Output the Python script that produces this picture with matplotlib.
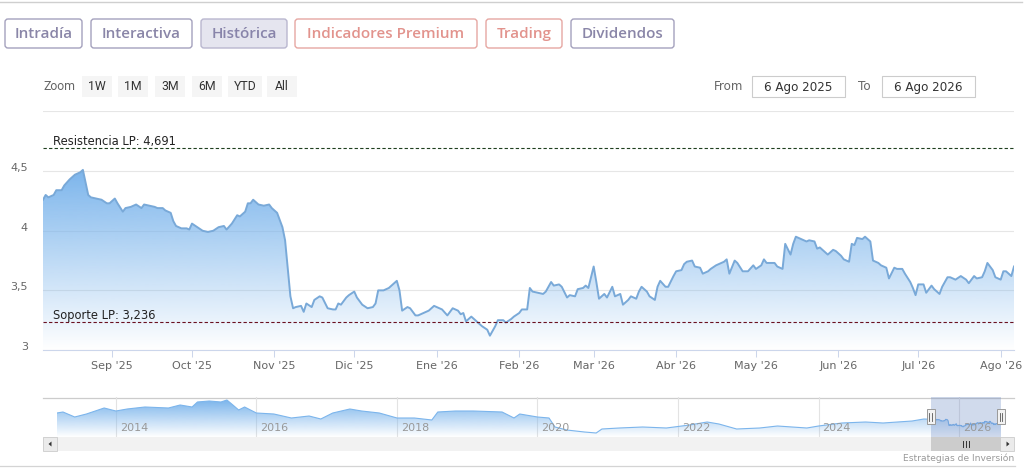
import numpy as np
import pandas as pd
import matplotlib
matplotlib.use("Agg")
import matplotlib.pyplot as plt
import matplotlib.dates as mdates
from matplotlib.colors import LinearSegmentedColormap, to_rgb
from matplotlib.patches import FancyBboxPatch, Rectangle
from matplotlib.transforms import ScaledTranslation, blended_transform_factory

# ---------------- data ----------------
dates = [
    "2025-08-06", "2025-08-07", "2025-08-08", "2025-08-10", "2025-08-11", "2025-08-13", "2025-08-14",
    "2025-08-16", "2025-08-18", "2025-08-20", "2025-08-21", "2025-08-23", "2025-08-24", "2025-08-26",
    "2025-08-28", "2025-08-30", "2025-08-31", "2025-09-02", "2025-09-03", "2025-09-05", "2025-09-06",
    "2025-09-08", "2025-09-10", "2025-09-12", "2025-09-13", "2025-09-15", "2025-09-17", "2025-09-18",
    "2025-09-20", "2025-09-21", "2025-09-23", "2025-09-24", "2025-09-25", "2025-09-27", "2025-09-29",
    "2025-09-30", "2025-10-01", "2025-10-03", "2025-10-05", "2025-10-07", "2025-10-09", "2025-10-11",
    "2025-10-13", "2025-10-14", "2025-10-16", "2025-10-18", "2025-10-19", "2025-10-21", "2025-10-22",
    "2025-10-23", "2025-10-24", "2025-10-26", "2025-10-28", "2025-10-30", "2025-10-31", "2025-11-02",
    "2025-11-03", "2025-11-04", "2025-11-05", "2025-11-07", "2025-11-08", "2025-11-09", "2025-11-11",
    "2025-11-12", "2025-11-13", "2025-11-15", "2025-11-16", "2025-11-18", "2025-11-19", "2025-11-21",
    "2025-11-23", "2025-11-24", "2025-11-25", "2025-11-26", "2025-11-28", "2025-11-29", "2025-12-01",
    "2025-12-02", "2025-12-04", "2025-12-06", "2025-12-08", "2025-12-09", "2025-12-10", "2025-12-12",
    "2025-12-14", "2025-12-15", "2025-12-17", "2025-12-18", "2025-12-19", "2025-12-21", "2025-12-22",
    "2025-12-24", "2025-12-25", "2025-12-27", "2025-12-29", "2025-12-31", "2026-01-01", "2026-01-03",
    "2026-01-05", "2026-01-07", "2026-01-09", "2026-01-10", "2026-01-11", "2026-01-12", "2026-01-14",
    "2026-01-15", "2026-01-17", "2026-01-18", "2026-01-20", "2026-01-21", "2026-01-23", "2026-01-24",
    "2026-01-26", "2026-01-27", "2026-01-29", "2026-01-30", "2026-02-01", "2026-02-02", "2026-02-04",
    "2026-02-05", "2026-02-06", "2026-02-08", "2026-02-10", "2026-02-11", "2026-02-13", "2026-02-14",
    "2026-02-16", "2026-02-17", "2026-02-19", "2026-02-20", "2026-02-22", "2026-02-23", "2026-02-25",
    "2026-02-26", "2026-02-27", "2026-03-01", "2026-03-02", "2026-03-03", "2026-03-05", "2026-03-06",
    "2026-03-08", "2026-03-09", "2026-03-11", "2026-03-12", "2026-03-14", "2026-03-15", "2026-03-17",
    "2026-03-18", "2026-03-19", "2026-03-21", "2026-03-22", "2026-03-24", "2026-03-25", "2026-03-26",
    "2026-03-28", "2026-03-29", "2026-03-31", "2026-04-01", "2026-04-03", "2026-04-04", "2026-04-05",
    "2026-04-07", "2026-04-08", "2026-04-10", "2026-04-11", "2026-04-13", "2026-04-14", "2026-04-16",
    "2026-04-17", "2026-04-19", "2026-04-20", "2026-04-21", "2026-04-23", "2026-04-24", "2026-04-26",
    "2026-04-27", "2026-04-28", "2026-04-30", "2026-05-01", "2026-05-03", "2026-05-04", "2026-05-05",
    "2026-05-07", "2026-05-08", "2026-05-09", "2026-05-11", "2026-05-12", "2026-05-14", "2026-05-15",
    "2026-05-16", "2026-05-18", "2026-05-20", "2026-05-21", "2026-05-23", "2026-05-24", "2026-05-25",
    "2026-05-27", "2026-05-28", "2026-05-30", "2026-05-31", "2026-06-02", "2026-06-03", "2026-06-05",
    "2026-06-06", "2026-06-07", "2026-06-08", "2026-06-10", "2026-06-11", "2026-06-13", "2026-06-14",
    "2026-06-16", "2026-06-17", "2026-06-19", "2026-06-20", "2026-06-22", "2026-06-23", "2026-06-25",
    "2026-06-26", "2026-06-28", "2026-06-29", "2026-06-30", "2026-07-01", "2026-07-03", "2026-07-04",
    "2026-07-06", "2026-07-07", "2026-07-09", "2026-07-10", "2026-07-12", "2026-07-13", "2026-07-15",
    "2026-07-17", "2026-07-19", "2026-07-20", "2026-07-22", "2026-07-23", "2026-07-25", "2026-07-26",
    "2026-07-27", "2026-07-29", "2026-07-30", "2026-08-01", "2026-08-02", "2026-08-03", "2026-08-05",
    "2026-08-06",
]
prices = [
    4.26, 4.30, 4.28, 4.30, 4.34, 4.34, 4.38,
    4.43, 4.47, 4.49, 4.51, 4.30, 4.28, 4.27,
    4.26, 4.23, 4.23, 4.27, 4.23, 4.16, 4.19,
    4.20, 4.22, 4.19, 4.22, 4.21, 4.20, 4.19,
    4.19, 4.17, 4.15, 4.08, 4.04, 4.02, 4.02,
    4.01, 4.06, 4.03, 4.00, 3.99, 4.00, 4.03,
    4.04, 4.01, 4.06, 4.13, 4.12, 4.16, 4.23,
    4.23, 4.26, 4.22, 4.21, 4.22, 4.19, 4.15,
    4.09, 4.03, 3.92, 3.45, 3.35, 3.36, 3.37,
    3.32, 3.39, 3.36, 3.42, 3.45, 3.44, 3.35,
    3.34, 3.34, 3.39, 3.38, 3.44, 3.46, 3.49,
    3.44, 3.38, 3.35, 3.36, 3.39, 3.50, 3.50,
    3.52, 3.54, 3.58, 3.50, 3.33, 3.36, 3.35,
    3.29, 3.29, 3.31, 3.33, 3.37, 3.36, 3.34,
    3.29, 3.35, 3.33, 3.30, 3.31, 3.24, 3.28,
    3.26, 3.22, 3.20, 3.17, 3.12, 3.20, 3.25,
    3.25, 3.23, 3.26, 3.28, 3.31, 3.34, 3.34,
    3.52, 3.49, 3.48, 3.47, 3.49, 3.57, 3.54,
    3.55, 3.53, 3.44, 3.46, 3.45, 3.51, 3.52,
    3.54, 3.52, 3.70, 3.57, 3.43, 3.47, 3.44,
    3.53, 3.45, 3.47, 3.38, 3.42, 3.45, 3.43,
    3.49, 3.53, 3.49, 3.45, 3.42, 3.53, 3.58,
    3.53, 3.53, 3.62, 3.66, 3.67, 3.72, 3.74,
    3.75, 3.70, 3.69, 3.64, 3.66, 3.68, 3.71,
    3.72, 3.74, 3.76, 3.64, 3.75, 3.73, 3.66,
    3.66, 3.66, 3.71, 3.68, 3.71, 3.76, 3.73,
    3.73, 3.73, 3.70, 3.68, 3.89, 3.80, 3.89,
    3.95, 3.93, 3.91, 3.92, 3.91, 3.85, 3.86,
    3.82, 3.80, 3.84, 3.83, 3.79, 3.76, 3.74,
    3.89, 3.88, 3.94, 3.93, 3.95, 3.91, 3.75,
    3.73, 3.71, 3.69, 3.60, 3.69, 3.68, 3.68,
    3.64, 3.57, 3.52, 3.46, 3.55, 3.55, 3.48,
    3.54, 3.51, 3.47, 3.53, 3.61, 3.61, 3.59,
    3.62, 3.59, 3.56, 3.62, 3.60, 3.61, 3.66,
    3.73, 3.67, 3.61, 3.59, 3.66, 3.66, 3.62,
    3.70,
]

# long history shown in the navigator (before the selected year)
nav_dates = [
    "2013-03-01", "2013-04-01", "2013-06-01", "2013-08-01", "2013-11-01", "2014-01-01", "2014-03-01",
    "2014-06-01", "2014-10-01", "2014-12-01", "2015-02-01", "2015-03-01", "2015-05-01", "2015-07-01",
    "2015-08-01", "2015-09-01", "2015-10-01", "2015-11-01", "2016-01-01", "2016-04-01", "2016-07-01",
    "2016-10-01", "2016-12-01", "2017-02-01", "2017-05-01", "2017-07-01", "2017-10-01", "2018-01-01",
    "2018-04-01", "2018-07-01", "2018-08-01", "2018-11-01", "2019-02-01", "2019-07-01", "2019-09-01",
    "2019-10-01", "2020-01-01", "2020-03-01", "2020-04-01", "2020-06-01", "2020-09-01", "2020-11-01",
    "2020-12-01", "2021-03-01", "2021-07-01", "2021-11-01", "2022-03-01", "2022-06-01", "2022-08-01",
    "2022-11-01", "2023-03-01", "2023-06-01", "2023-11-01", "2024-01-01", "2024-05-01", "2024-09-01",
    "2024-12-01", "2025-05-01", "2025-07-01",
]
nav_prices = [
    5.20, 5.35, 4.60, 5.05, 5.95, 5.50, 5.80,
    6.10, 5.95, 6.40, 6.10, 6.85, 7.00, 6.85,
    7.15, 6.40, 5.65, 6.10, 5.20, 5.05, 4.45,
    4.75, 4.30, 5.20, 5.80, 5.50, 5.20, 4.45,
    4.45, 4.15, 5.35, 5.50, 5.50, 5.35, 4.45,
    5.05, 4.60, 4.45, 3.10, 2.65, 2.35, 2.20,
    2.80, 2.95, 3.10, 2.95, 3.40, 3.85, 3.55,
    2.80, 2.95, 3.25, 2.95, 3.25, 3.70, 3.85,
    3.70, 4.00, 4.30,
]

resistance = 4.691
support = 3.236

month_ticks = ["2025-09-01", "2025-10-01", "2025-11-01", "2025-12-01", "2026-01-01", "2026-02-01",
               "2026-03-01", "2026-04-01", "2026-05-01", "2026-06-01", "2026-07-01", "2026-08-01"]
month_labels = ["Sep '25", "Oct '25", "Nov '25", "Dic '25", "Ene '26", "Feb '26",
                "Mar '26", "Abr '26", "May '26", "Jun '26", "Jul '26", "Ago '26"]
y_ticks = [3.0, 3.5, 4.0, 4.5, 5.0]
y_labels = ["3", "3,5", "4", "4,5", ""]
nav_years = [2014, 2016, 2018, 2020, 2022, 2024, 2026]

range_from = "2025-08-06"
range_to = "2026-08-06"
range_from_label = "6 Ago 2025"
range_to_label = "6 Ago 2026"

tab_labels = ["Intradía", "Interactiva", "Histórica", "Indicadores Premium", "Trading", "Dividendos"]
zoom_labels = ["1W", "1M", "3M", "6M", "YTD", "All"]
credit = "Estrategias de Inversión"

# ---------------- figure ----------------
W, H = 1029, 472
fig = plt.figure(figsize=(W / 100, H / 100), dpi=100)
fig.patch.set_facecolor("white")

def px_axes(x0, y0, x1, y1, **kw):
    return fig.add_axes([x0 / W, 1 - y1 / H, (x1 - x0) / W, (y1 - y0) / H], **kw)

ui = fig.add_axes([0, 0, 1, 1])
ui.set_xlim(0, W)
ui.set_ylim(H, 0)
ui.axis("off")

SERIES = "#7cb5ec"
LINE = "#79a9d8"

def gradient_fill(ax, xn, yv, base, top, color, zorder=1):
    poly = ax.fill_between(xn, yv, base, facecolor="none", edgecolor="none")
    path = poly.get_paths()[0]
    r, g, b = to_rgb(color)
    cmap = LinearSegmentedColormap.from_list("g", [(r, g, b, 0.0), (r, g, b, 1.0)])
    im = ax.imshow(np.linspace(0, 1, 256).reshape(-1, 1), extent=[xn.min(), xn.max(), base, top],
                   origin="lower", aspect="auto", cmap=cmap, zorder=zorder, interpolation="bilinear")
    im.set_clip_path(path, transform=ax.transData)

# ---- top tabs ----
tab_x = [(5, 82), (91, 192), (201, 287), (295, 477), (486, 562), (571, 674)]
tab_style = ["p", "p", "sel", "r", "r", "p"]
for lab, (x0, x1), st in zip(tab_labels, tab_x, tab_style):
    if st == "r":
        tc, ec, fc = "#e2938d", "#e6a7a2", "white"
    elif st == "sel":
        tc, ec, fc = "#8884aa", "#b9b7cf", "#e5e5ef"
    else:
        tc, ec, fc = "#8a86a8", "#a4a1bd", "white"
    ui.add_patch(FancyBboxPatch((x0, 19), x1 - x0, 29, boxstyle="round,pad=0,rounding_size=3",
                                fc=fc, ec=ec, lw=1.0))
    ui.text((x0 + x1) / 2, 34, lab, ha="center", va="center", fontsize=11, color=tc,
            family="Open Sans", weight="semibold")

ui.plot([0, 1022], [1.5, 1.5], color="#cfcfcf", lw=1.0)

# ---- zoom row ----
ui.text(43, 87, "Zoom", ha="left", va="center", fontsize=8.8, color="#666666", family="Roboto")
zoom_x = [(82, 112), (118, 148), (155, 185), (192, 222), (228, 262), (267, 297)]
for lab, (x0, x1) in zip(zoom_labels, zoom_x):
    ui.add_patch(Rectangle((x0, 76), x1 - x0, 21, fc="#f5f5f5", ec="none"))
    ui.text((x0 + x1) / 2, 87, lab, ha="center", va="center", fontsize=8.8, color="#333333",
            family="Roboto")

ui.text(714, 87, "From", ha="left", va="center", fontsize=8.6, color="#666666")
ui.add_patch(Rectangle((752, 76), 93, 21, fc="white", ec="#cccccc", lw=0.8))
ui.text(798.5, 87, range_from_label, ha="center", va="center", fontsize=8.6, color="#333333")
ui.text(858, 87, "To", ha="left", va="center", fontsize=8.6, color="#666666")
ui.add_patch(Rectangle((882, 76), 93, 21, fc="white", ec="#cccccc", lw=0.8))
ui.text(928.5, 87, range_to_label, ha="center", va="center", fontsize=8.6, color="#333333")

# ---- main chart ----
ax = px_axes(43, 111, 1014, 350)
xn = mdates.date2num(pd.to_datetime(dates))
yv = np.array(prices)
gradient_fill(ax, xn, yv, 3.0, max(prices), SERIES, zorder=1)
ax.plot(xn, yv, color=LINE, lw=1.4, zorder=3, solid_joinstyle="round")

lbl_tr = blended_transform_factory(ax.transAxes, ax.transData)
ax.axhline(resistance, color="#1f3f1f", lw=0.8, ls=(0, (3, 2)), zorder=4)
ax.axhline(support, color="#6a1020", lw=0.8, ls=(0, (3, 2)), zorder=4)
off = ScaledTranslation(0, 3 / 100, fig.dpi_scale_trans)
ax.text(10 / 971, resistance, "Resistencia LP: " + f"{resistance:.3f}".replace(".", ","),
        transform=lbl_tr + off, ha="left", va="baseline", fontsize=8.3, color="#222222", zorder=5)
ax.text(10 / 971, support, "Soporte LP: " + f"{support:.3f}".replace(".", ","),
        transform=lbl_tr + off, ha="left", va="baseline", fontsize=8.3, color="#222222", zorder=5)

ax.set_xlim(xn.min(), xn.max())
ax.set_ylim(3.0, 5.004)
ax.set_aspect("auto")
ax.set_xticks(mdates.date2num(pd.to_datetime(month_ticks)))
ax.set_xticklabels(month_labels)
ax.set_yticks(y_ticks)
ax.set_yticklabels(y_labels)
ax.tick_params(axis="x", length=5, width=0.75, color="#ccd6eb", labelsize=8, labelcolor="#666666", pad=3)
ax.tick_params(axis="y", length=0, labelsize=8, labelcolor="#666666", pad=11)
for lab in ax.get_yticklabels():
    lab.set_transform(lab.get_transform() + ScaledTranslation(0, 4 / 100, fig.dpi_scale_trans))
ax.yaxis.grid(True, color="#e6e6e6", lw=0.8)
ax.set_axisbelow(True)
for s in ["top", "left", "right"]:
    ax.spines[s].set_visible(False)
ax.spines["bottom"].set_color("#ccd6eb")
ax.spines["bottom"].set_linewidth(0.8)

# ---- navigator ----
ax_nav = px_axes(57, 397, 1001, 437)
ax_nav.patch.set_facecolor("none")
all_dates = pd.to_datetime(nav_dates + dates)
nxn = mdates.date2num(all_dates)
nyv = np.array(nav_prices + prices)
gradient_fill(ax_nav, nxn, nyv, 1.6, max(nyv), SERIES, zorder=1)
ax_nav.plot(nxn, nyv, color=SERIES, lw=0.8, zorder=2)
ax_nav.set_xlim(nxn.min(), nxn.max())
ax_nav.set_ylim(1.6, 7.6)
ax_nav.set_aspect("auto")
year_pos = mdates.date2num(pd.to_datetime([f"{y}-01-01" for y in nav_years]))
ax_nav.set_xticks(year_pos)
ax_nav.set_xticklabels([])
ax_nav.set_yticks([])
ax_nav.tick_params(axis="x", length=0)
ax_nav.xaxis.grid(True, color="#e3e3e3", lw=0.8)
ax_nav.set_axisbelow(True)
for s in ax_nav.spines.values():
    s.set_visible(False)
yr_tr = blended_transform_factory(ax_nav.transData, ax_nav.transAxes) + \
    ScaledTranslation(4 / 100, 0, fig.dpi_scale_trans)
for y, p in zip(nav_years, year_pos):
    ax_nav.text(p, 0.22, str(y), transform=yr_tr, ha="left", va="center", fontsize=8, color="#999999", zorder=5)
sel0 = mdates.date2num(pd.Timestamp(range_from))
sel1 = mdates.date2num(pd.Timestamp(range_to))
ax_nav.axvspan(sel0, sel1, color=(102 / 255, 133 / 255, 194 / 255, 0.3), lw=0, zorder=3)

px0 = ax_nav.transData.transform((sel0, 0))[0]
px1 = ax_nav.transData.transform((sel1, 0))[0]

ui.plot([43, 1014], [397.5, 397.5], color="#cccccc", lw=0.9)

# ---- scrollbar ----
ui.add_patch(Rectangle((43, 437), 971, 14, fc="#f2f2f2", ec="none"))
ui.add_patch(Rectangle((43, 437), 14, 14, fc="#ebebeb", ec="#cccccc", lw=0.6))
ui.add_patch(Rectangle((1000, 437), 14, 14, fc="#ebebeb", ec="#cccccc", lw=0.6))
ui.add_patch(plt.Polygon([[48.5, 444], [51.5, 441.5], [51.5, 446.5]], closed=True, fc="#333333", ec="none"))
ui.add_patch(plt.Polygon([[1009.5, 444], [1006.5, 441.5], [1006.5, 446.5]], closed=True, fc="#333333", ec="none"))
ui.add_patch(Rectangle((px0, 437), px1 - px0, 14, fc="#cccccc", ec="none"))
cx = (px0 + px1) / 2
for dx in (-3, 0, 3):
    ui.plot([cx + dx, cx + dx], [441, 447], color="#333333", lw=0.7)

# ---- top overlay (handles) ----
top = fig.add_axes([0, 0, 1, 1])
top.patch.set_alpha(0)
top.set_xlim(0, W)
top.set_ylim(H, 0)
top.axis("off")
for hx in (px0, px1):
    top.add_patch(Rectangle((hx - 4, 409), 8, 15, fc="#f2f2f2", ec="#999999", lw=0.7))
    for dx in (-1.3, 1.3):
        top.plot([hx + dx, hx + dx], [412.5, 420.5], color="#555555", lw=0.6)

# ---- credits & bottom rule ----
ui.text(1014, 458, credit, ha="right", va="center", fontsize=6.6, color="#999999")
ui.plot([0, 1015], [466, 466], color="#d4d4d4", lw=0.9)

fig.savefig("out.png", dpi=100, facecolor="white")
